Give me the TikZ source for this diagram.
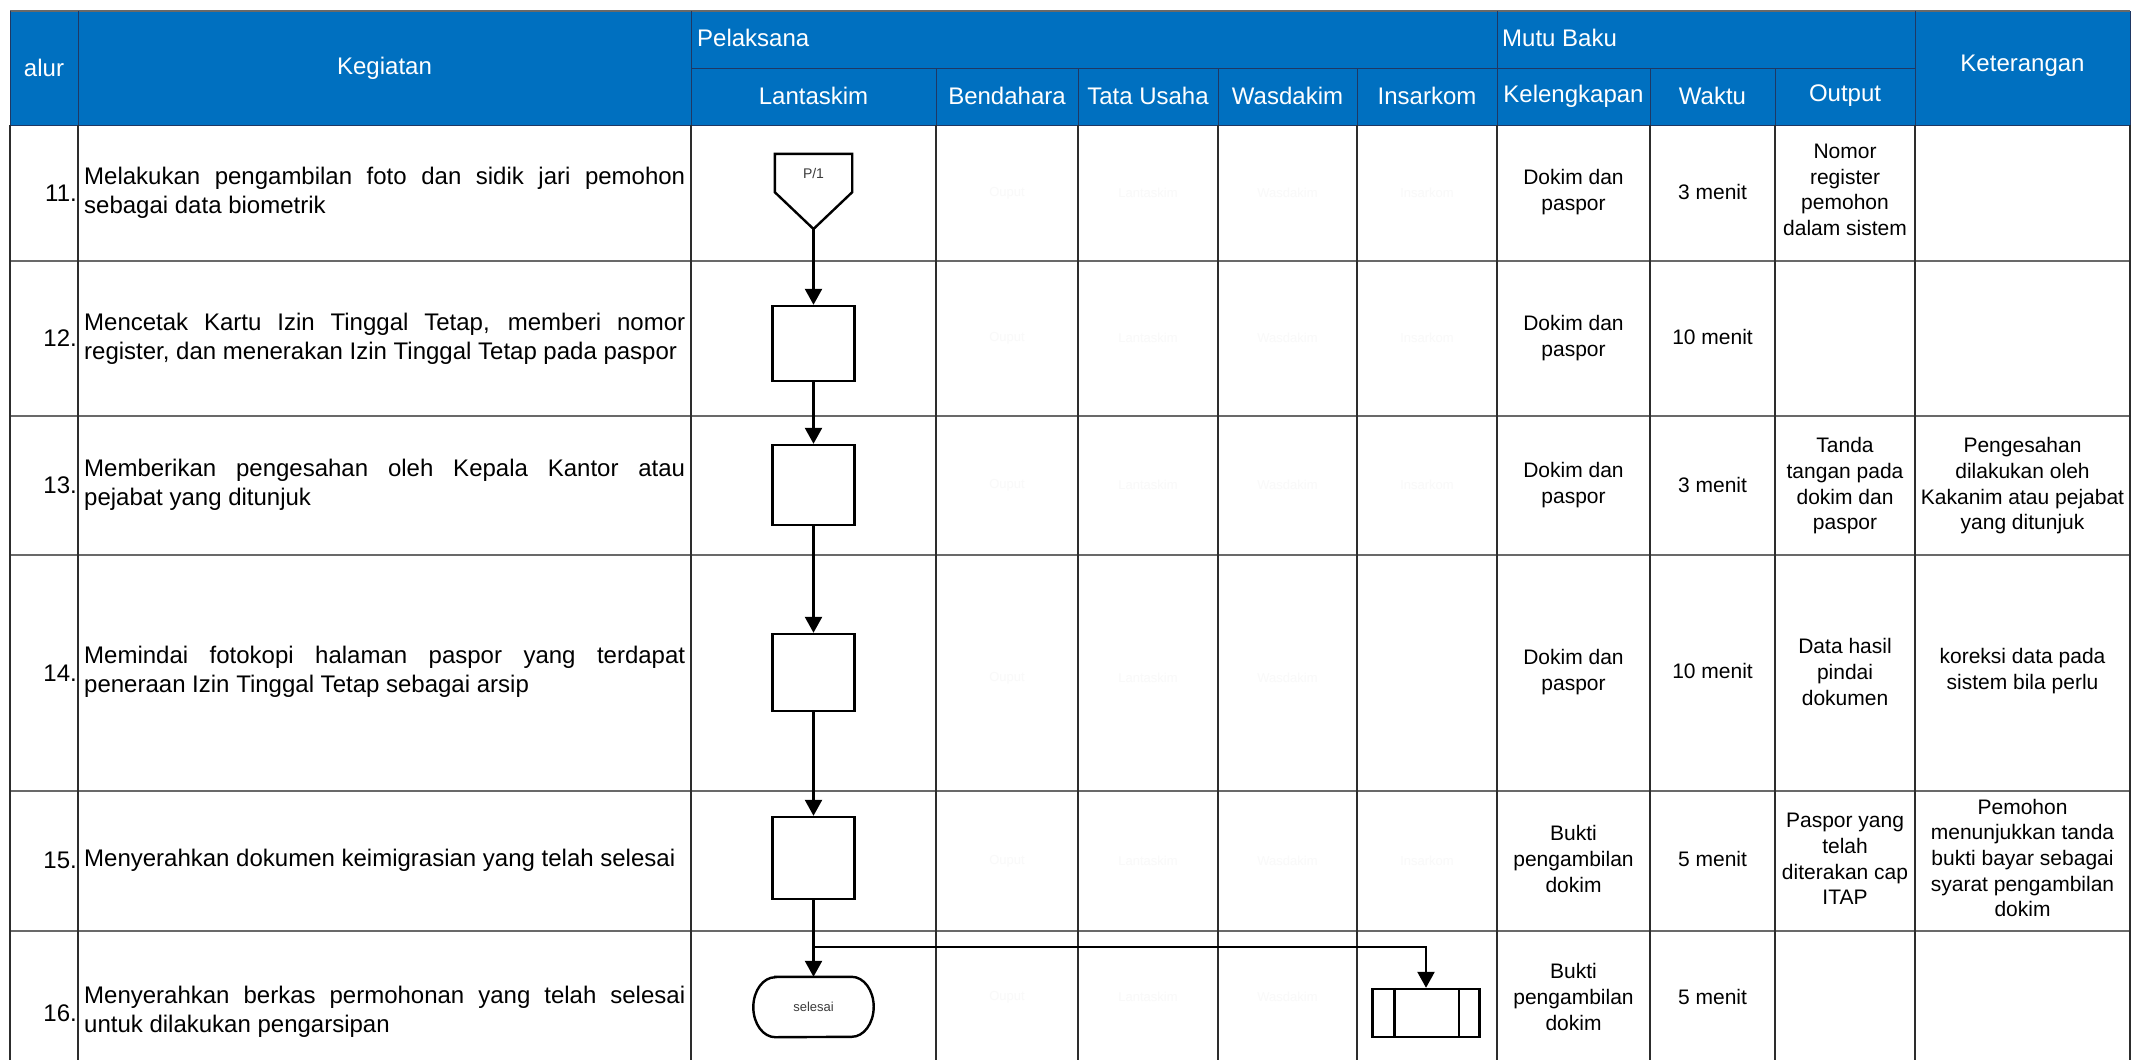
\documentclass[tikz,border=0pt]{standalone}
\usepackage{fontspec}
\setmainfont{Liberation Sans}
\usetikzlibrary{arrows.meta,calc}
\definecolor{hdrblue}{RGB}{0,112,192}
\definecolor{hdrline}{RGB}{31,56,100}
\definecolor{gridv}{RGB}{45,45,45}
\definecolor{gridh}{RGB}{105,105,105}
\definecolor{faint}{RGB}{249,249,249}
\definecolor{shapetext}{RGB}{60,60,60}
\begin{document}
\begin{tikzpicture}[x=1pt,y=-1pt,
  hdr/.style={text=white,inner sep=0,font=\fontsize{24}{28}\selectfont},
  act/.style={anchor=west,inner sep=0,text width=601pt,align=justify,font=\fontsize{24}{28.5}\selectfont},
  num/.style={anchor=east,inner sep=0,font=\fontsize{24}{28}\selectfont},
  cell/.style={inner sep=0,align=center,font=\fontsize{21}{25.7}\selectfont},
  ghost/.style={inner sep=0,text=faint,font=\fontsize{13}{15}\selectfont},
  procbox/.style={draw,line width=2.4pt,minimum width=82pt,inner sep=0},
  flow/.style={line width=2.4pt,-{Triangle[length=16pt,width=17pt]}},
  shp/.style={draw,line width=2.4pt},
  vgrid/.style={gridv,line width=1.1pt},
  hgrid/.style={gridh,line width=1.8pt},
]
\useasboundingbox (0,0) rectangle (2132,1060);
\fill[white] (0,0) rectangle (2132,1060);

% ---------- header ----------
\fill[hdrblue] (10,11) rectangle (2130,125);
\draw[gridh,line width=1.2pt] (10,11) -- (2130,11);
\draw[hdrline,line width=1pt] (10,11) -- (10,125) -- (2130,125) -- (2130,11);
\draw[hdrline,line width=1pt] (78,11) -- (78,125);
\draw[hdrline,line width=1pt] (691,11) -- (691,125);
\draw[hdrline,line width=1pt] (1497,11) -- (1497,125);
\draw[hdrline,line width=1pt] (1915,11) -- (1915,125);
\draw[hdrline,line width=1pt] (691,68) -- (1915,68);
\foreach \xx in {936,1078,1218,1357,1650,1775}
  \draw[hdrline,line width=1pt] (\xx,68) -- (\xx,125);

\node[hdr] (h-alur) at (44,68) {alur};
\node[hdr] (h-keg) at (384.5,68) {Kegiatan};
\node[hdr,anchor=west] (h-pel) at (697,38) {Pelaksana};
\node[hdr,anchor=west] (h-mutu) at (1502,38) {Mutu Baku};
\node[hdr] (h-ket) at (2022.5,66) {Keterangan};
\node[hdr] (h-lant) at (813.5,96) {Lantaskim};
\node[hdr] (h-bend) at (1007,96) {Bendahara};
\node[hdr] (h-tata) at (1148,96) {Tata Usaha};
\node[hdr] (h-was) at (1287.5,96) {Wasdakim};
\node[hdr] (h-ins) at (1427,96) {Insarkom};
\node[hdr] (h-kel) at (1573.5,96) {Kelengkapan};
\node[hdr] (h-wak) at (1712.5,96) {Waktu};
\node[hdr] (h-out) at (1845,96) {Output};

% ---------- body grid ----------
\foreach \yy in {261,416,555,791,931}
  \draw[hgrid] (10,\yy) -- (2130,\yy);
\foreach \xx in {10,78,691,936,1078,1218,1357,1497,1650,1775,1915,2130}
  \draw[vgrid] (\xx,125) -- (\xx,1060);

% ---------- faint placeholder texts ----------
\foreach \yy/\rr in {193/a,338/b,485/c,861/e}{
  \node[ghost] (g1\rr) at (1007,\yy) {Ouput};
  \node[ghost] (g2\rr) at (1148,\yy) {Lantaskim};
  \node[ghost] (g3\rr) at (1287.5,\yy) {Wasdakim};
  \node[ghost] (g4\rr) at (1427,\yy) {Insarkom};
}
\foreach \yy/\rr in {678/d,997/f}{
  \node[ghost] (g1\rr) at (1007,\yy) {Ouput};
  \node[ghost] (g2\rr) at (1148,\yy) {Lantaskim};
  \node[ghost] (g3\rr) at (1287.5,\yy) {Wasdakim};
}

% ---------- row numbers ----------
\node[num] (n11) at (77,193) {11.};
\node[num] (n12) at (77,338) {12.};
\node[num] (n13) at (77,485) {13.};
\node[num] (n14) at (77,673) {14.};
\node[num] (n15) at (77,860) {15.};
\node[num] (n16) at (77,1013) {16.};

% ---------- activities ----------
\node[act] (a11) at (84,193) {Melakukan pengambilan foto dan sidik jari pemohon\linebreak sebagai data biometrik};
\node[act] (a12) at (84,339) {Mencetak Kartu Izin Tinggal Tetap, memberi nomor\linebreak register, dan menerakan Izin Tinggal Tetap pada paspor};
\node[act] (a13) at (84,485) {Memberikan pengesahan oleh Kepala Kantor atau\linebreak pejabat yang ditunjuk};
\node[act] (a14) at (84,672) {Memindai fotokopi halaman paspor yang terdapat\linebreak peneraan Izin Tinggal Tetap sebagai arsip};
\node[act] (a15) at (84,860) {Menyerahkan dokumen keimigrasian yang telah selesai};
\node[act] (a16) at (84,1012) {Menyerahkan berkas permohonan yang telah selesai\linebreak untuk dilakukan pengarsipan};

% ---------- Mutu Baku ----------
\node[cell] (k11) at (1573.5,192) {Dokim dan\\paspor};
\node[cell] (k12) at (1573.5,338) {Dokim dan\\paspor};
\node[cell] (k13) at (1573.5,485) {Dokim dan\\paspor};
\node[cell] (k14) at (1573.5,672) {Dokim dan\\paspor};
\node[cell] (k15) at (1573.5,859) {Bukti\\pengambilan\\dokim};
\node[cell] (k16) at (1573.5,997) {Bukti\\pengambilan\\dokim};

\node[cell] (w11) at (1712.5,192) {3 menit};
\node[cell] (w12) at (1712.5,337) {10 menit};
\node[cell] (w13) at (1712.5,485) {3 menit};
\node[cell] (w14) at (1712.5,671) {10 menit};
\node[cell] (w15) at (1712.5,859) {5 menit};
\node[cell] (w16) at (1712.5,997) {5 menit};

\node[cell] (o11) at (1845,190) {Nomor\\register\\pemohon\\dalam sistem};
\node[cell] (o13) at (1845,486) {Tanda\\tangan pada\\dokim dan\\paspor};
\node[cell] (o14) at (1845,672) {Data hasil\\pindai\\dokumen};
\node[cell] (o15) at (1845,859) {Paspor yang\\telah\\diterakan cap\\ITAP};

\node[cell] (t13) at (2022.5,486) {Pengesahan\\dilakukan oleh\\Kakanim atau pejabat\\yang ditunjuk};
\node[cell] (t14) at (2022.5,671) {koreksi data pada\\sistem bila perlu};
\node[cell] (t15) at (2022.5,858) {Pemohon\\menunjukkan tanda\\bukti bayar sebagai\\syarat pengambilan\\dokim};

% ---------- flow shapes ----------
\node[inner sep=0,minimum width=77pt,minimum height=38pt,text=shapetext,font=\fontsize{14}{16}\selectfont] (p1) at (813.5,173) {P/1};
\coordinate (p1tip) at (813.5,229);
\draw[shp,line join=miter] (p1.south west) -- (p1.north west) -- (p1.north east) -- (p1.south east) -- (p1tip) -- cycle;

\node[procbox,minimum height=75pt] (s12) at (813.5,343.5) {};
\node[procbox,minimum height=80pt] (s13) at (813.5,485) {};
\node[procbox,minimum height=77pt] (s14) at (813.5,672.5) {};
\node[procbox,minimum height=82pt] (s15) at (813.5,858) {};

\node[inner sep=0,minimum width=120pt,minimum height=60pt,text=shapetext,font=\fontsize{13}{15}\selectfont] (fin) at (813.5,1007) {selesai};
\draw[shp] ([xshift=22pt]fin.north west) -- ([xshift=-22pt]fin.north east)
  arc[start angle=90,end angle=-90,x radius=22pt,y radius=30pt]
  -- ([xshift=22pt]fin.south west)
  arc[start angle=270,end angle=90,x radius=22pt,y radius=30pt] -- cycle;

\node[draw,line width=2.4pt,inner sep=0,minimum width=107pt,minimum height=48pt] (arsip) at (1426,1013) {};
\draw[line width=2.4pt] ([xshift=23pt]arsip.north west) -- ([xshift=23pt]arsip.south west);
\draw[line width=2.4pt] ([xshift=-22pt]arsip.north east) -- ([xshift=-22pt]arsip.south east);

% ---------- connectors ----------
\coordinate (br) at (813.5,947);
\draw[flow] (p1tip) -- (s12.north);
\draw[flow] (s12.south) -- (s13.north);
\draw[flow] (s13.south) -- (s14.north);
\draw[flow] (s14.south) -- (s15.north);
\draw[flow] (s15.south) -- (fin.north);
\draw[flow] (br) -| (arsip.north);
\end{tikzpicture}
\end{document}
